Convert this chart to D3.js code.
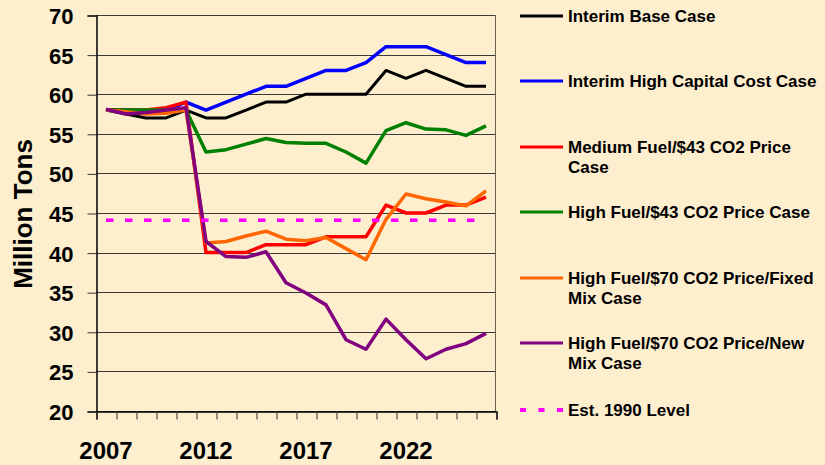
<!DOCTYPE html>
<html>
<head>
<meta charset="utf-8">
<script src="https://cdn.jsdelivr.net/npm/d3@7"></script>
<style>
  html, body { margin: 0; padding: 0; background: #FDEECE; }
  text { font-family: "Liberation Sans", Arial, sans-serif; font-weight: bold; fill: #000; }
</style>
</head>
<body>
<div id="chart"></div>
<script>
const years = d3.range(2007, 2027);
const yTicks = [20, 25, 30, 35, 40, 45, 50, 55, 60, 65, 70];
const xLabels = [2007, 2012, 2017, 2022];

const interimBase = [58, 57.5, 57, 57, 58, 57, 57, 58, 59, 59, 60, 60, 60, 60, 63, 62, 63, 62, 61, 61];
const interimHighCapital = [58, 58, 58, 58, 59, 58, 59, 60, 61, 61, 62, 63, 63, 64, 66, 66, 66, 65, 64, 64];
const mediumFuel43 = [58, 58, 58, 58.3, 59, 40, 40, 40, 41, 41, 41, 42, 42, 42, 46, 45, 45, 46, 46, 47];
const highFuel43 = [58, 58, 58, 58, 58, 52.7, 53, 53.7, 54.4, 53.9, 53.8, 53.8, 52.7, 51.3, 55.4, 56.4, 55.6, 55.5, 54.8, 56];
const highFuel70Fixed = [58, 57.8, 57.5, 57.6, 58, 41.2, 41.4, 42.1, 42.7, 41.7, 41.5, 41.9, 40.5, 39.1, 44.2, 47.4, 46.8, 46.4, 45.9, 47.8];
const highFuel70New = [58.1, 57.5, 57.7, 58, 58.3, 41.4, 39.5, 39.4, 40.1, 36.2, 34.9, 33.4, 29.0, 27.8, 31.6, 29.0, 26.6, 27.8, 28.5, 29.8];
const level1990 = [44.1, 44.1, 44.1, 44.1, 44.1, 44.1, 44.1, 44.1, 44.1, 44.1, 44.1, 44.1, 44.1, 44.1, 44.1, 44.1, 44.1, 44.1, 44.1, 44.1];

const series = [
  { name: ['Interim Base Case'], values: interimBase, color: '#000000', width: 3, legendY: 16 },
  { name: ['Interim High Capital Cost Case'], values: interimHighCapital, color: '#0000FF', width: 3.5, legendY: 81 },
  { name: ['Medium Fuel/$43 CO2 Price', 'Case'], values: mediumFuel43, color: '#FF0000', width: 3.5, legendY: 147 },
  { name: ['High Fuel/$43 CO2 Price Case'], values: highFuel43, color: '#008000', width: 3.5, legendY: 212 },
  { name: ['High Fuel/$70 CO2 Price/Fixed', 'Mix Case'], values: highFuel70Fixed, color: '#FF6600', width: 3.5, legendY: 278 },
  { name: ['High Fuel/$70 CO2 Price/New', 'Mix Case'], values: highFuel70New, color: '#800080', width: 3.5, legendY: 343 },
  { name: ['Est. 1990 Level'], values: level1990, color: '#FF00FF', width: 3.5, legendY: 410, dash: '7.5,11.5' }
];

const width = 825;
const height = 465;
const plot = { left: 96, right: 496, top: 15, bottom: 411 };

const svg = d3.select('#chart')
  .append('svg')
  .attr('width', width)
  .attr('height', height);

svg.append('rect').attr('width', width).attr('height', height).attr('fill', '#FDEECE');

const x = d3.scaleLinear().domain([2006.5, 2026.5]).range([plot.left, plot.right]);
const y = d3.scaleLinear().domain([20, 70]).range([plot.bottom, plot.top]);

// gridlines
svg.append('g')
  .selectAll('line')
  .data(yTicks)
  .join('line')
  .attr('x1', plot.left).attr('x2', plot.right)
  .attr('y1', (d) => Math.round(y(d)) + 0.5).attr('y2', (d) => Math.round(y(d)) + 0.5)
  .attr('stroke', '#3a3a3a')
  .attr('stroke-width', 1);

// right border
svg.append('line')
  .attr('x1', plot.right - 0.5).attr('x2', plot.right - 0.5)
  .attr('y1', plot.top).attr('y2', plot.bottom)
  .attr('stroke', '#6b6050');

// y axis
const yAxis = svg.append('g')
  .attr('transform', `translate(${plot.left + 0.5},0.5)`)
  .call(d3.axisLeft(y).tickValues(yTicks).tickSize(9).tickPadding(14).tickFormat(d3.format('d')));
yAxis.select('.domain').attr('stroke', '#000').attr('stroke-width', 1.5);
yAxis.selectAll('.tick line').attr('stroke', '#333');
yAxis.selectAll('text').style('font-size', '22px').attr('dy', '0.36em');

// x axis ticks at category boundaries
const xAxis = svg.append('g')
  .attr('transform', `translate(0.5,${plot.bottom + 0.5})`)
  .call(d3.axisBottom(x).tickValues(d3.range(2006.5, 2027, 1)).tickSize(8).tickFormat(''));
xAxis.select('.domain').attr('stroke', '#000').attr('stroke-width', 1.5);
xAxis.selectAll('.tick line').attr('stroke', '#333');

// x labels
svg.append('g')
  .selectAll('text')
  .data(xLabels)
  .join('text')
  .attr('x', (d) => x(d))
  .attr('y', 459)
  .attr('text-anchor', 'middle')
  .style('font-size', '24px')
  .text((d) => d);

// y title
svg.append('text')
  .attr('transform', 'translate(31.5,214) rotate(-90)')
  .attr('text-anchor', 'middle')
  .style('font-size', '26px')
  .text('Million Tons');

const line = d3.line()
  .x((d, i) => x(years[i]))
  .y((d) => y(d));

series.forEach((s) => {
  svg.append('path')
    .datum(s.values)
    .attr('fill', 'none')
    .attr('stroke', s.color)
    .attr('stroke-width', s.width)
    .attr('stroke-linejoin', 'round')
    .attr('stroke-dasharray', s.dash || null)
    .attr('d', line);
});

// legend
const legend = svg.append('g');
series.forEach((s) => {
  legend.append('line')
    .attr('x1', 520).attr('x2', 563)
    .attr('y1', s.legendY).attr('y2', s.legendY)
    .attr('stroke', s.color)
    .attr('stroke-width', s.dash ? 4 : 3)
    .attr('stroke-dasharray', s.dash ? '6,12.5' : null);
  const t = legend.append('text')
    .attr('x', 568)
    .attr('y', s.legendY)
    .style('font-size', '17px');
  s.name.forEach((n, i) => {
    t.append('tspan')
      .attr('x', 568)
      .attr('dy', i === 0 ? '0.35em' : '1.2em')
      .text(n);
  });
});
</script>
</body>
</html>
